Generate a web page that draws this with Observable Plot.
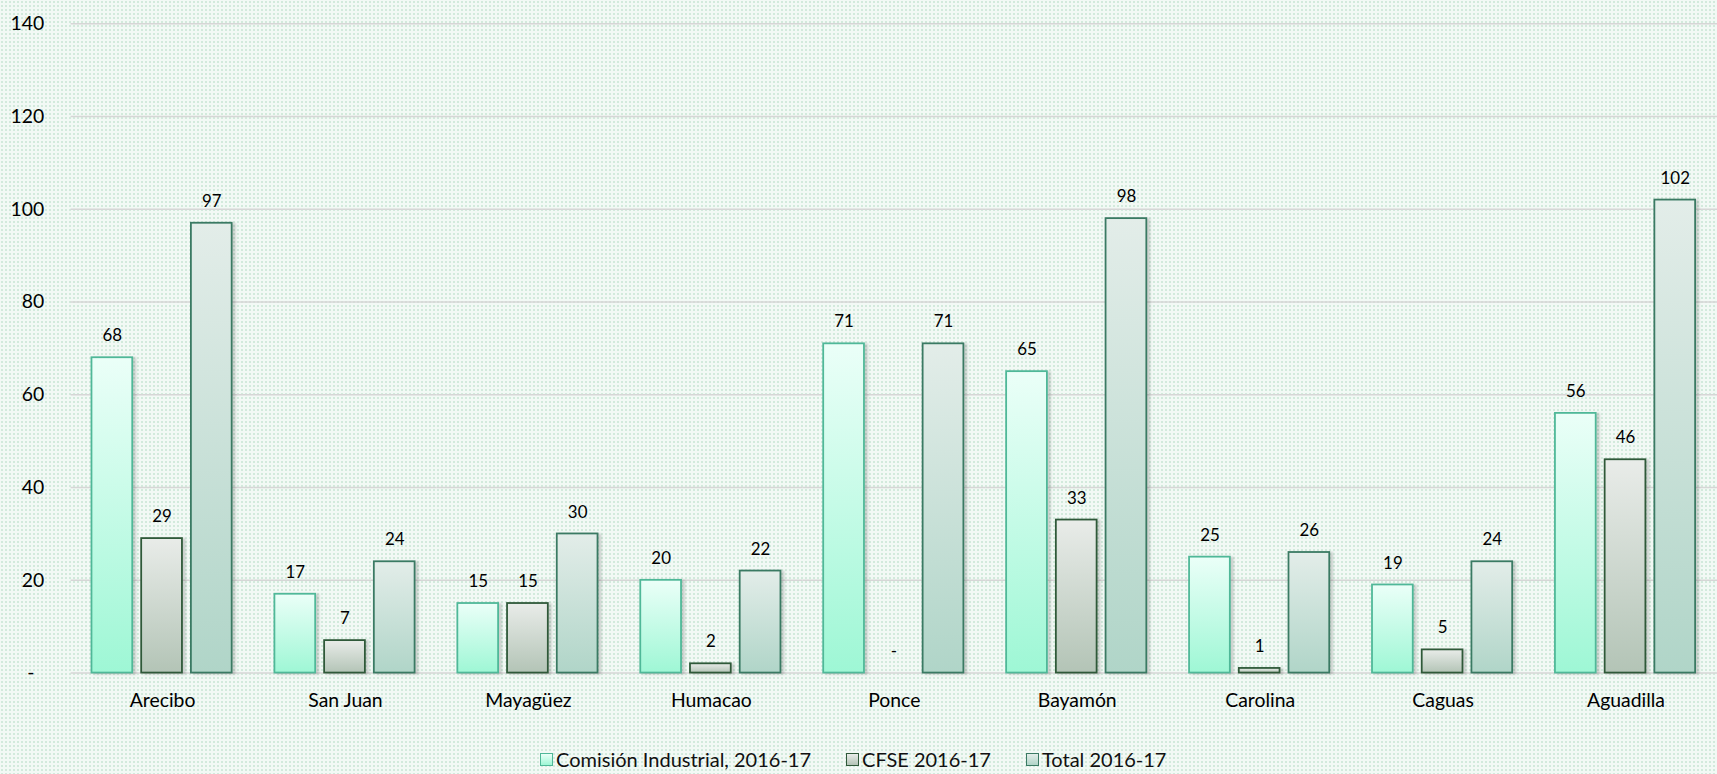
<!DOCTYPE html>
<html><head><meta charset="utf-8">
<script src="https://cdn.jsdelivr.net/npm/d3@7"></script>
<script src="https://cdn.jsdelivr.net/npm/@observablehq/plot@0.6"></script>
<style>
html,body{margin:0;padding:0;width:1717px;height:774px;overflow:hidden;}
body{background-color:#f2f9f5;background-image:radial-gradient(circle,#d2eadc 0.8px,transparent 1.3px);background-size:4px 4px;font-family:Lato,sans-serif;position:relative;}
#chart{position:absolute;left:0;top:0;}
#chart g[aria-label="bar"] rect{filter:drop-shadow(3px 1px 1.2px rgba(0,0,0,0.16));}
#legend{position:absolute;left:540px;top:747px;display:flex;align-items:center;font-family:Lato,sans-serif;font-size:20px;line-height:24px;color:#111;white-space:nowrap;}
#legend .item{display:flex;align-items:center;margin-right:35px;}
#legend .sw{width:13px;height:13px;box-sizing:border-box;border:1.5px solid;margin-right:3px;}
</style></head>
<body>
<svg width="0" height="0" style="position:absolute">
  <defs>
    <linearGradient id="g0" x1="0" y1="0" x2="0" y2="1"><stop offset="0" stop-color="#ebfff8"/><stop offset="1" stop-color="#9ef7d5"/></linearGradient>
    <linearGradient id="g1" x1="0" y1="0" x2="0" y2="1"><stop offset="0" stop-color="#e9ece9"/><stop offset="1" stop-color="#b3c4b6"/></linearGradient>
    <linearGradient id="g2" x1="0" y1="0" x2="0" y2="1"><stop offset="0" stop-color="#e3ede9"/><stop offset="1" stop-color="#b0d5c8"/></linearGradient>
  </defs>
</svg>
<div id="chart"></div>
<div id="legend"></div>
<script>
const cities = ["Arecibo","San Juan","Mayagüez","Humacao","Ponce","Bayamón","Carolina","Caguas","Aguadilla"];
const seriesNames = ["Comisión Industrial, 2016-17","CFSE 2016-17","Total 2016-17"];
const comision = [68,17,15,20,71,65,25,19,56];
const cfse = [29,7,15,2,0,33,1,5,46];
const total = [97,24,30,22,71,98,26,24,102];
const yTicks = [0,20,40,60,80,100,120,140];

const seriesValues = [comision, cfse, total];
const fills = {[seriesNames[0]]:"url(#g0)",[seriesNames[1]]:"url(#g1)",[seriesNames[2]]:"url(#g2)"};
const strokes = {[seriesNames[0]]:"#4fb898",[seriesNames[1]]:"#2f5939",[seriesNames[2]]:"#3a7a63"};
const rows = cities.flatMap((c,i)=>seriesNames.map((s,j)=>({city:c,series:s,value:seriesValues[j][i]})));

const chart = Plot.plot({
  width:1727, height:730,
  marginLeft:71, marginRight:0, marginTop:23.5, marginBottom:53.5,
  style:{background:"transparent",fontFamily:"Lato, sans-serif",fontSize:"19.5px",color:"#000",overflow:"visible"},
  facet:{data:rows, x:"city"},
  fx:{domain:cities, padding:0, axis:"bottom", label:null, tickSize:0, tickPadding:20},
  x:{domain:seriesNames, paddingInner:0.176, paddingOuter:0.392, axis:null},
  y:{domain:[0,140], ticks:yTicks, tickFormat:d=>d===0?"-\u00a0\u00a0":String(d), tickSize:0, tickPadding:27, label:null},
  color:{type:"identity"},
  marks:[
    Plot.gridY(yTicks,{stroke:"#d6d6d6",strokeOpacity:1,strokeWidth:1.5}),
    Plot.barY(rows,{x:"series",y:"value",fill:d=>fills[d.series],stroke:d=>strokes[d.series],strokeWidth:1.8}),
    Plot.text(rows,{x:"series",y:"value",text:d=>d.value===0?"-":String(d.value),dy:-22,fontSize:17,fill:"#000"})
  ]
});
document.getElementById("chart").appendChild(chart);

const legend = document.getElementById("legend");
seriesNames.forEach(s=>{
  const it=document.createElement("span"); it.className="item";
  const sw=document.createElement("span"); sw.className="sw";
  sw.style.borderColor=strokes[s];
  sw.style.background=s===seriesNames[0]?"linear-gradient(#ebfff8,#9ef7d5)":s===seriesNames[1]?"linear-gradient(#e9ece9,#b3c4b6)":"linear-gradient(#e3ede9,#b0d5c8)";
  it.appendChild(sw); it.appendChild(document.createTextNode(s));
  legend.appendChild(it);
});
</script>
</body></html>
